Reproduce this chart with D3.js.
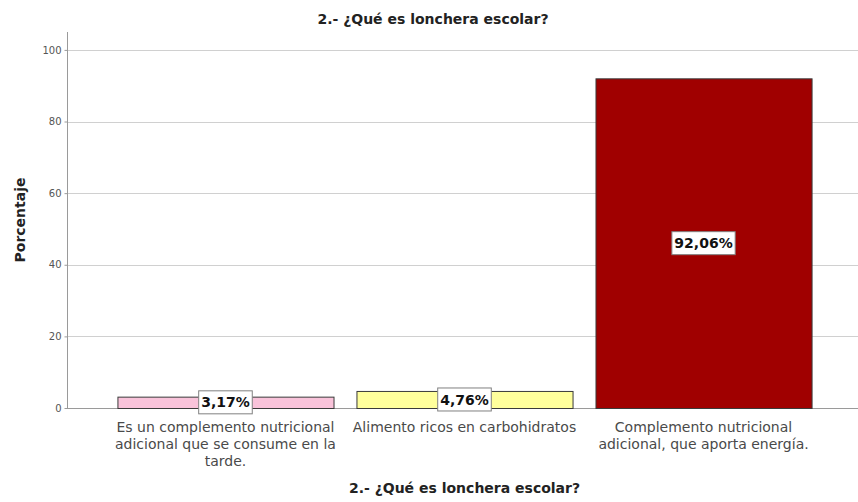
<!DOCTYPE html>
<html>
<head>
<meta charset="utf-8">
<script src="https://cdn.jsdelivr.net/npm/d3@7"></script>
<style>
  html, body { margin: 0; padding: 0; background: #fff; }
  svg { display: block; font-family: "DejaVu Sans", Verdana, sans-serif; }
</style>
</head>
<body>
<svg id="chart" width="858" height="502"></svg>
<script>
// Survey answers and their percentages
const categories = [
  "Es un complemento nutricional adicional que se consume en la tarde.",
  "Alimento ricos en carbohidratos",
  "Complemento nutricional adicional, que aporta energía."
];
const percentages = [3.17, 4.76, 92.06];
const yTicks = [0, 20, 40, 60, 80, 100];
const chartTitle = "2.- ¿Qué es lonchera escolar?";
const yTitle = "Porcentaje";

const barFills = ["#f9c3da", "#ffff9c", "#a00000"];

const svg = d3.select("#chart");
const W = 858, H = 502;
const plot = { left: 67, right: 862, top: 32, bottom: 408 };

const x = d3.scaleBand()
  .domain(categories)
  .range([plot.left, plot.right])
  .paddingInner(0.096)
  .paddingOuter(0.211);

const y = d3.scaleLinear()
  .domain([0, 105])
  .range([plot.bottom, plot.top]);

// Gridlines
svg.append("g")
  .selectAll("line")
  .data(yTicks.filter(d => d > 0))
  .join("line")
  .attr("x1", plot.left).attr("x2", W)
  .attr("y1", d => Math.round(y(d)) + 0.5).attr("y2", d => Math.round(y(d)) + 0.5)
  .attr("stroke", "#d0d0d0").attr("stroke-width", 1);

// Y axis
const yAxis = svg.append("g")
  .attr("transform", `translate(${plot.left + 0.5},0)`)
  .call(d3.axisLeft(y).tickValues(yTicks).tickSize(3).tickPadding(3).tickFormat(d3.format("d")));
yAxis.select(".domain").attr("stroke", "#9a9a9a").attr("d", `M0,${plot.top}V${plot.bottom}`);
yAxis.selectAll(".tick line").attr("stroke", "#9a9a9a");
yAxis.selectAll(".tick text")
  .attr("fill", "#555").attr("font-size", 10)
  .attr("font-family", "DejaVu Sans, Verdana, sans-serif");

// Baseline
svg.append("line")
  .attr("x1", plot.left).attr("x2", W)
  .attr("y1", Math.round(y(0)) + 0.5).attr("y2", Math.round(y(0)) + 0.5)
  .attr("stroke", "#9a9a9a");

// Bars
svg.append("g")
  .selectAll("rect")
  .data(categories)
  .join("rect")
  .attr("x", d => x(d) + 0.5)
  .attr("y", (d, i) => y(percentages[i]) + 0.5)
  .attr("width", x.bandwidth())
  .attr("height", (d, i) => y(0) - y(percentages[i]))
  .attr("fill", (d, i) => barFills[i])
  .attr("stroke", "#3a3a3a")
  .attr("stroke-width", 1);

// Value labels in boxes at the middle of each bar
const fmt = v => d3.format(".2f")(v).replace(".", ",") + "%";
const labels = svg.append("g")
  .selectAll("g")
  .data(categories)
  .join("g")
  .attr("transform", (d, i) =>
    `translate(${x(d) + x.bandwidth() / 2},${(y(percentages[i]) + y(0)) / 2})`);
labels.each(function (d, i) {
  const g = d3.select(this);
  const t = g.append("text")
    .attr("text-anchor", "middle")
    .attr("dy", "0.36em")
    .attr("font-size", 14)
    .attr("font-weight", "bold")
    .attr("fill", "#111")
    .text(fmt(percentages[i]));
  const w = t.node().getComputedTextLength() + 5;
  g.insert("rect", "text")
    .attr("x", -w / 2).attr("y", -11.5)
    .attr("width", w).attr("height", 23)
    .attr("fill", "#fff")
    .attr("stroke", "#808080");
});

// Category labels, wrapped to the bar width
function wrapWords(text, maxW, measure) {
  const words = text.split(" ");
  const lines = [];
  let cur = "";
  words.forEach(w => {
    const test = cur ? cur + " " + w : w;
    if (measure(test) > maxW && cur) { lines.push(cur); cur = w; }
    else cur = test;
  });
  if (cur) lines.push(cur);
  return lines;
}
const probe = svg.append("text").attr("font-size", 14).attr("visibility", "hidden");
const measure = s => probe.text(s).node().getComputedTextLength();
const catG = svg.append("g");
categories.forEach(c => {
  const lines = wrapWords(c, x.bandwidth() + 8, measure);
  const t = catG.append("text")
    .attr("text-anchor", "middle")
    .attr("font-size", 14)
    .attr("fill", "#4a4a4a");
  lines.forEach((ln, k) => {
    t.append("tspan")
      .attr("x", x(c) + x.bandwidth() / 2)
      .attr("y", 432 + k * 17)
      .text(ln);
  });
});
probe.remove();

// Titles
svg.append("text")
  .attr("x", 433).attr("y", 24)
  .attr("text-anchor", "middle")
  .attr("font-size", 14).attr("font-weight", "bold").attr("fill", "#222")
  .text(chartTitle);

svg.append("text")
  .attr("x", (plot.left + plot.right) / 2).attr("y", 493)
  .attr("text-anchor", "middle")
  .attr("font-size", 14).attr("font-weight", "bold").attr("fill", "#222")
  .text(chartTitle);

svg.append("text")
  .attr("transform", `translate(25,${(plot.top + plot.bottom) / 2}) rotate(-90)`)
  .attr("text-anchor", "middle")
  .attr("font-size", 14).attr("font-weight", "bold").attr("fill", "#222")
  .text(yTitle);
</script>
</body>
</html>
